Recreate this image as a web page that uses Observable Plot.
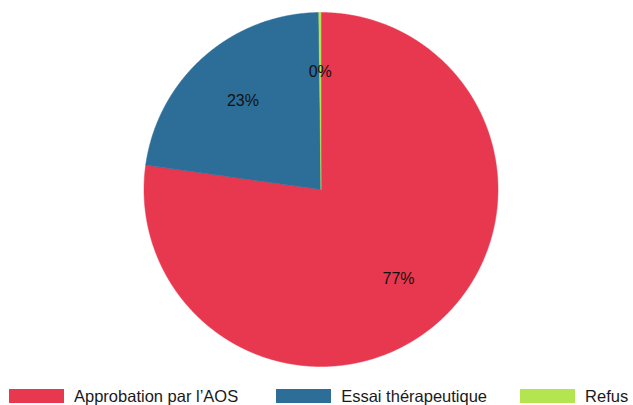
<!DOCTYPE html>
<html>
<head>
<meta charset="utf-8">
<script src="https://cdn.jsdelivr.net/npm/d3@7"></script>
<script src="https://cdn.jsdelivr.net/npm/@observablehq/plot@0.6"></script>
<style>
  html, body { margin: 0; padding: 0; background: #fff; }
  #chart { width: 633px; height: 405px; position: relative; font-family: "Liberation Sans", Arial, sans-serif; }
  .legend { display: flex; align-items: center; padding-left: 9px; margin-top: 9px; }
  .legend .item { display: flex; align-items: center; }
  .legend .item:nth-child(1) { margin-right: 38px; }
  .legend .item:nth-child(2) { margin-right: 33px; }
  .legend .sw { width: 55px; height: 14px; margin-right: 10px; }
  .legend .lab { font-size: 16.5px; color: #1a1a1a; line-height: 14px; white-space: nowrap; }
</style>
</head>
<body>
<div id="chart"></div>
<script>
// Share of decisions by outcome (percent)
const categories = ["Approbation par l’AOS", "Essai thérapeutique", "Refus"];
const shares = [77.2, 22.6, 0.2];
const colors = ["#e8384f", "#2c6e98", "#b4e551"];

const fmt = v => `${Math.round(v)}%`;

// Slice angles (clockwise from 12 o'clock)
const pie = d3.pie().sort(null).value(d => d.value)(
  categories.map((name, i) => ({name, value: shares[i]}))
);

// Outline of each slice in unit-circle coordinates
const outline = [];
for (const s of pie) {
  outline.push({name: s.data.name, x: 0, y: 0});
  const n = Math.max(2, Math.ceil((s.endAngle - s.startAngle) / (Math.PI / 720)));
  for (let k = 0; k <= n; ++k) {
    const a = s.startAngle + (s.endAngle - s.startAngle) * k / n;
    outline.push({name: s.data.name, x: Math.sin(a), y: Math.cos(a)});
  }
  outline.push({name: s.data.name, x: 0, y: 0});
}

// Label anchors at two thirds of the radius, on each slice's mid-angle
const labels = pie.map(s => {
  const a = (s.startAngle + s.endAngle) / 2;
  return {text: fmt(s.data.value), x: 0.667 * Math.sin(a), y: 0.667 * Math.cos(a)};
});

const chart = Plot.plot({
  width: 633,
  height: 380,
  margin: 0,
  style: {fontFamily: "Liberation Sans, Arial, sans-serif", background: "#fff"},
  x: {domain: [-1, 1], range: [143.5, 497.5], axis: null},
  y: {domain: [-1, 1], range: [366, 12], axis: null},
  color: {domain: categories, range: colors},
  marks: [
    Plot.line(outline, {x: "x", y: "y", z: "name", fill: "name", stroke: "name", strokeWidth: 0.5, curve: "linear"}),
    Plot.text(labels, {x: "x", y: "y", text: "text", fontSize: 16, fill: "#111"})
  ]
});

const root = document.getElementById("chart");
root.appendChild(chart);

// Legend built from the plot's color scale
const color = chart.scale("color");
const legend = document.createElement("div");
legend.className = "legend";
color.domain.forEach((name, i) => {
  const item = document.createElement("div");
  item.className = "item";
  const sw = document.createElement("div");
  sw.className = "sw";
  sw.style.background = color.range[i];
  const lab = document.createElement("span");
  lab.className = "lab";
  lab.textContent = name;
  item.append(sw, lab);
  legend.appendChild(item);
});
root.appendChild(legend);
</script>
</body>
</html>
